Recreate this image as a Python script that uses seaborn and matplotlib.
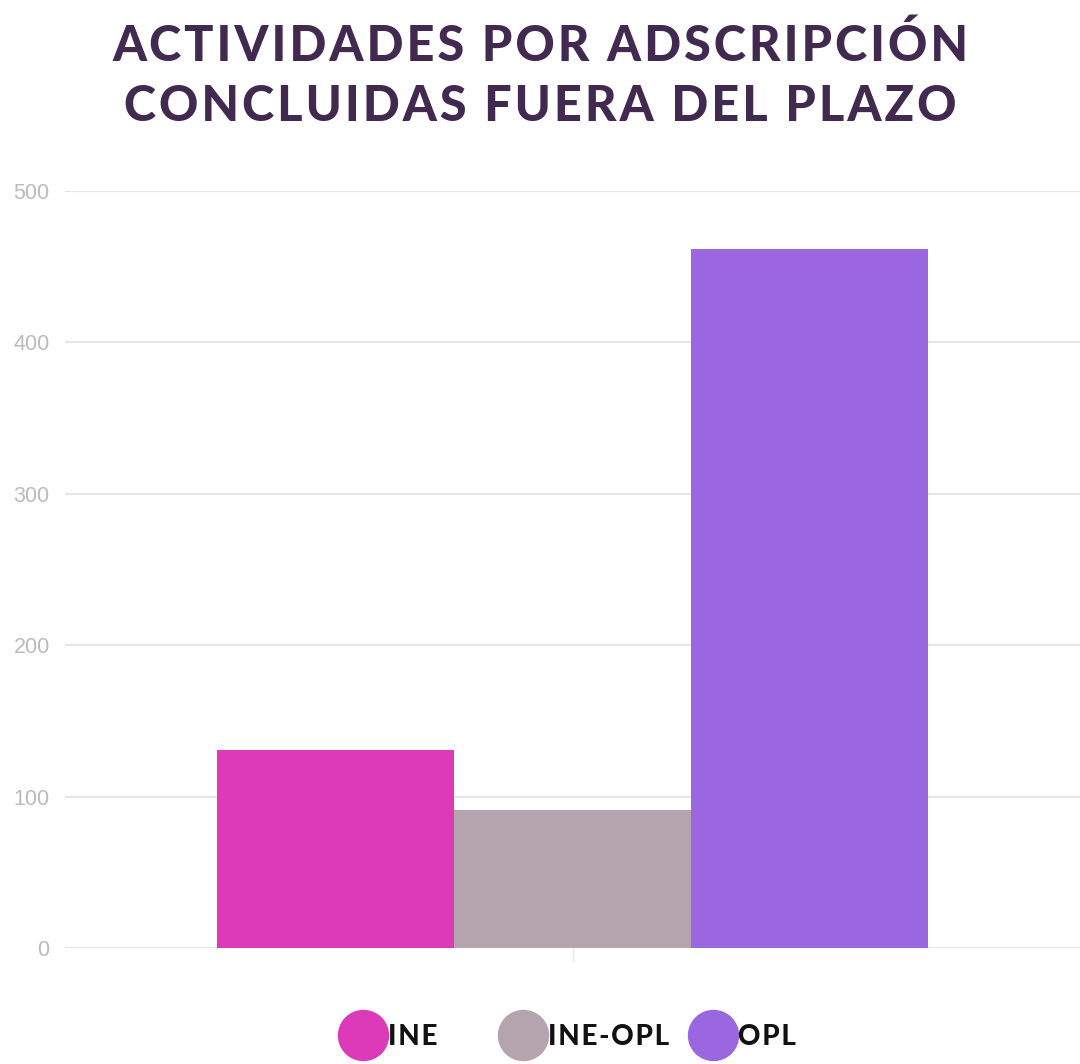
import matplotlib
matplotlib.use("Agg")
import matplotlib.pyplot as plt
import seaborn as sns
import pandas as pd
from matplotlib.lines import Line2D

# Data
categories = ["Actividades"]
series = ["INE", "INE-OPL", "OPL"]
values = [131, 91, 462]
colors = ["#DC3AB8", "#B5A4AD", "#9B67E0"]
yticks = [0, 100, 200, 300, 400, 500]
title_lines = ["ACTIVIDADES POR ADSCRIPCIÓN", "CONCLUIDAS FUERA DEL PLAZO"]

df = pd.DataFrame({"cat": categories * len(series), "serie": series, "valor": values})

sns.set_theme(style="white")
plt.rcParams['font.family'] = ['Liberation Sans', 'DejaVu Sans']

def spaced(s, sep="\u200a"):
    return sep.join(list(s))

fig = plt.figure(figsize=(10.8, 10.64), dpi=100)
ax = fig.add_axes([65/1080, 1 - 948/1064, 1 - 65/1080, (948 - 191)/1064])

sns.barplot(data=df, x="cat", y="valor", hue="serie", hue_order=series,
            palette=colors, width=0.7, saturation=1, ax=ax, legend=False,
            linewidth=0)

ax.set_ylim(0, 500)
ax.set_xlim(-0.5, 0.5)
ax.set_yticks(yticks)
ax.set_yticklabels([str(v) for v in yticks])
ax.set_axisbelow(True)
ax.yaxis.grid(True, color="#E6E6E6", linewidth=1.5)
ax.xaxis.grid(False)
for s in ax.spines.values():
    s.set_visible(False)
ax.set_xlabel("")
ax.set_ylabel("")
ax.set_xticks([0])
ax.set_xticklabels([""])
ax.tick_params(axis="x", length=10, color="#E8E8E8", width=1, direction="out", bottom=True, pad=0)
ax.tick_params(axis="y", length=0, pad=11, labelsize=15.5, labelcolor="#BBBBBB")

title = "\n".join(spaced(l) for l in title_lines)
fig.text(0.5, 0.929, title, ha="center", va="center", fontsize=35,
         family=["Lato", "DejaVu Sans"], fontweight="black", color="#42294F",
         linespacing=1.4)

# Legend: one entry per legend so spacing can follow the reference
legend_x = [338, 498, 688]
for name, c, lx in zip(series, colors, legend_x):
    h = Line2D([0], [0], marker="o", linestyle="", markersize=36,
               markerfacecolor=c, markeredgecolor=c)
    leg = fig.legend([h], [spaced(name)], loc="center left",
                     bbox_to_anchor=(lx / 1080, 1 - 1037 / 1064),
                     frameon=False, handlelength=1.8, handletextpad=0.0,
                     borderpad=0, borderaxespad=0,
                     prop={"family": ["Lato", "DejaVu Sans"], "weight": "black", "size": 20})
    for t in leg.get_texts():
        t.set_color("#111111")

fig.savefig("out.png", dpi=100)
